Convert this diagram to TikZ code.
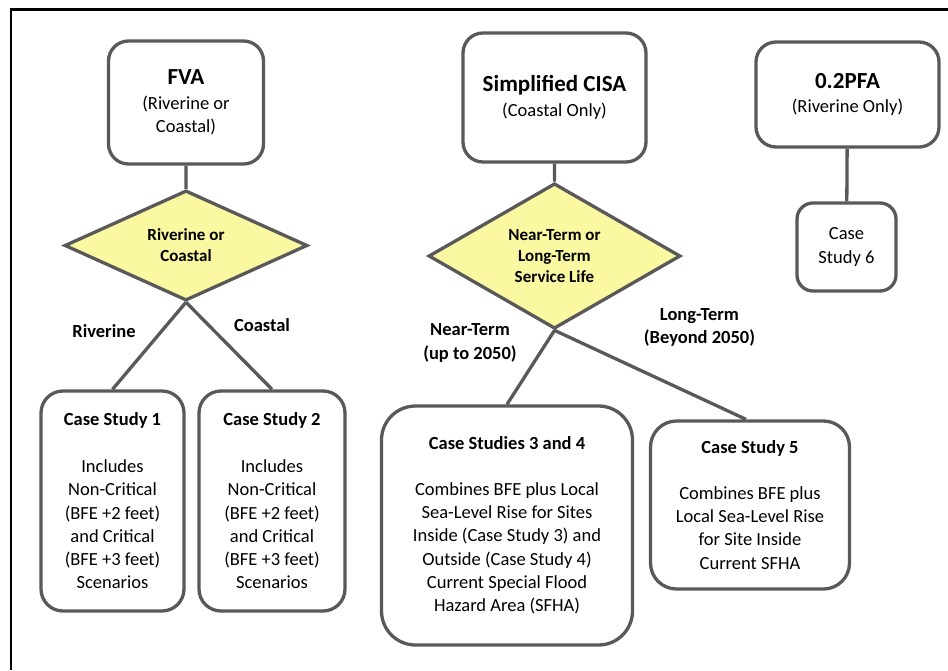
\documentclass[tikz,border=0pt]{standalone}
\usepackage{fontspec}
\setmainfont{Carlito}
\usetikzlibrary{positioning, shapes.geometric}
\definecolor{linegray}{RGB}{89,89,89}
\definecolor{choiceyellow}{RGB}{250,248,160}
\newcommand{\titlefont}{\bfseries\fontsize{23}{25}\selectfont}

\begin{document}
\begin{tikzpicture}[x=1pt, y=1pt,
    box/.style={draw=linegray, line width=3.3pt, rounded corners=20pt, align=center,
        inner sep=0pt, font=\fontsize{18.5}{23.3}\selectfont},
    choice/.style={diamond, draw=linegray, fill=choiceyellow, line width=3.3pt, align=center,
        inner sep=0pt, font=\bfseries\fontsize{17}{21}\selectfont},
    branch/.style={align=center, font=\bfseries\fontsize{18.5}{23.5}\selectfont},
    link/.style={draw=linegray, line width=3.3pt}]
    \useasboundingbox (0,0) rectangle (948,-670);
    \draw[line width=2.2pt] (948,-9.5) -- (11,-9.5) -- (11,-670);

    \node[box, minimum width=155pt, minimum height=123pt] (fva) at (186,-102.5)
        {{\titlefont FVA}\\[1pt](Riverine or\\Coastal)};
    \node[box, minimum width=183pt, minimum height=129pt, node distance=368.5pt, right of=fva, yshift=5pt] (cisa)
        {{\titlefont Simplified CISA}\\[1pt](Coastal Only)};
    \node[box, minimum width=183pt, minimum height=105pt, node distance=293pt, right of=cisa, yshift=3pt] (pfa)
        {{\titlefont 0.2PFA}\\[1pt](Riverine Only)};

    \node[choice, minimum width=243pt, minimum height=99pt, node distance=143pt, below of=fva] (riv)
        {Riverine or\\Coastal};
    \node[choice, minimum width=252pt, minimum height=108pt, node distance=158.5pt, below of=cisa] (term)
        {Near-Term or\\Long-Term\\Service Life};
    \node[box, rounded corners=16pt, minimum width=99pt, minimum height=88pt, node distance=152.5pt, below of=pfa, xshift=-1pt] (cs6)
        {Case\\Study 6};

    \node[box, rounded corners=22pt, minimum width=143pt, minimum height=220pt, node distance=255.5pt, below of=riv, xshift=-73.5pt] (cs1)
        {\textbf{Case Study 1}\\[23.3pt]Includes\\Non-Critical\\(BFE +2 feet)\\and Critical\\(BFE +3 feet)\\Scenarios};
    \node[box, rounded corners=22pt, minimum width=146pt, minimum height=220pt, node distance=255.5pt, below of=riv, xshift=86pt] (cs2)
        {\textbf{Case Study 2}\\[23.3pt]Includes\\Non-Critical\\(BFE +2 feet)\\and Critical\\(BFE +3 feet)\\Scenarios};
    \node[box, rounded corners=34pt, minimum width=251pt, minimum height=239pt, node distance=269.5pt, below of=term, xshift=-47.5pt] (cs34)
        {\textbf{Case Studies 3 and 4}\\[22pt]Combines BFE plus Local\\Sea-Level Rise for Sites\\Inside (Case Study 3) and\\Outside (Case Study 4)\\Current Special Flood\\Hazard Area (SFHA)};
    \node[box, rounded corners=26pt, minimum width=199pt, minimum height=168pt, node distance=249pt, below of=term, xshift=195.5pt] (cs5)
        {\textbf{Case Study 5}\\[22pt]Combines BFE plus\\Local Sea-Level Rise\\for Site Inside\\Current SFHA};

    \node[branch, node distance=85.5pt, below of=riv, xshift=-82pt] (rivlbl) {Riverine};
    \node[branch, node distance=79.5pt, below of=riv, xshift=76pt] (coaslbl) {Coastal};
    \node[branch, node distance=87pt, below of=term, xshift=-84.5pt] (nearlbl) {Near-Term\\(up to 2050)};
    \node[branch, node distance=71.5pt, below of=term, xshift=145pt] (longlbl) {Long-Term\\(Beyond 2050)};

    \draw[link]
        (fva) -- (riv)
        (riv.south) -- (cs1.north)
        (riv.south) -- (cs2.north)
        (cisa) -- (term)
        (term.south) -- (cs34.north)
        (term.south) -- ([xshift=-4pt]cs5.north)
        (pfa) -- (cs6)
        ;
\end{tikzpicture}
\end{document}
